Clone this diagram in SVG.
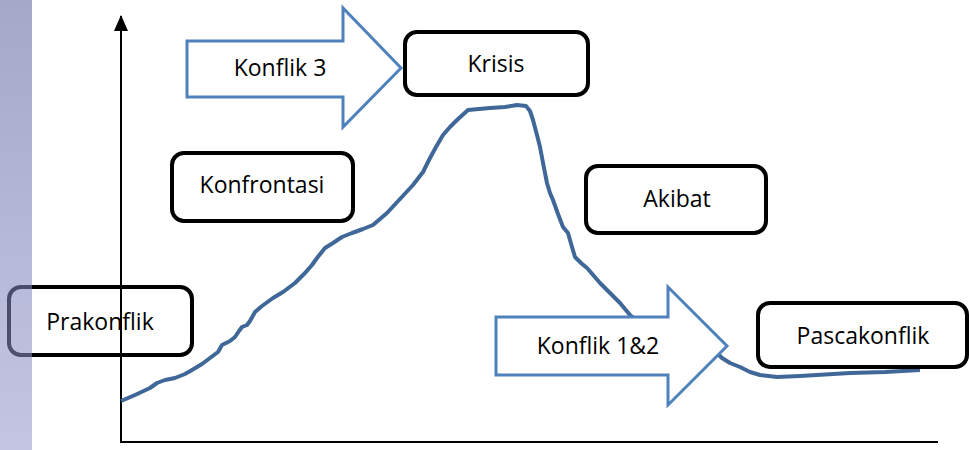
<svg xmlns="http://www.w3.org/2000/svg" width="969" height="450" viewBox="0 0 969 450">
  <defs>
    <linearGradient id="stripFill" x1="0" y1="0" x2="0" y2="1">
      <stop offset="0" stop-color="#5e67a0"/>
      <stop offset="1" stop-color="#9698cc"/>
    </linearGradient>
    <marker id="axisHead" viewBox="0 0 16 14" refX="15" refY="7" markerWidth="16" markerHeight="14" markerUnits="userSpaceOnUse" orient="auto">
      <path d="M0 0 L16 7 L0 14 Z" fill="#000"/>
    </marker>
  </defs>
  <style>
    .box { fill: none; stroke: #000; stroke-width: 4; }
    .shape-arrow { fill: #fff; stroke: #4f81bd; stroke-width: 3; stroke-linejoin: miter; }
    .label { font-family: "Open Sans", "Liberation Sans", sans-serif; font-size: 23px; fill: #000; text-anchor: middle; }
    .axis { stroke: #000; stroke-width: 2; fill: none; }
    .curve { fill: none; stroke: #3f6797; stroke-width: 4; stroke-linejoin: round; stroke-linecap: butt; }
  </style>

  <rect width="969" height="450" fill="#fff"/>

  <!-- axes -->
  <g id="axes">
    <line class="axis" x1="121" y1="442" x2="121" y2="16" marker-end="url(#axisHead)"/>
    <line class="axis" x1="120" y1="442" x2="938" y2="442"/>
  </g>

  <!-- conflict curve -->
  <g id="connectors">
    <path class="curve" d="M121 401 L135 395 L150 388 L157 383 L165 380 L175 378 L185 374 L192 370 L202 364 L210 358 L218 352 L222 345 L230 341 L235 337 L239 331 L242 327 L247 325 L250 321 L255 312 L262 306 L273 298 L283 292 L295 283 L305 273 L312 265 L317 258 L325 248 L333 243 L342 237 L352 233 L363 229 L373 225 L380 219 L387 213 L400 199 L413 185 L423 172 L430 158 L436 147 L443 135 L450 127 L457 120 L468 110 L490 108 L505 107 L517 105 L526 106 L530 111 L533 120 L537 135 L540 147 L544 168 L547 183 L550 193 L553 200 L558 214 L563 227 L568 233 L570 240 L572 247 L575 257 L581 263 L587 268 L594 276 L600 283 L610 293 L620 303 L630 315 L645 328 L670 338 L700 346 L718 354 L722 358 L730 363 L740 367 L750 372 L760 375 L777 377 L800 376 L850 373 L885 372 L920 370"/>
  </g>

  <!-- stage boxes -->
  <g id="prakonflik">
    <rect class="box" x="9" y="287" width="183" height="68" rx="12"/>
    <text class="label" x="100" y="330">Prakonflik</text>
  </g>
  <g id="konfrontasi">
    <rect class="box" x="172" y="153" width="181" height="68" rx="12"/>
    <text class="label" x="262" y="193">Konfrontasi</text>
  </g>
  <g id="krisis">
    <rect class="box" x="405" y="32" width="183" height="63" rx="12"/>
    <text class="label" x="496" y="72">Krisis</text>
  </g>
  <g id="akibat">
    <rect class="box" x="586" y="166" width="180" height="67" rx="12"/>
    <text class="label" x="677" y="207">Akibat</text>
  </g>
  <g id="pascakonflik">
    <rect class="box" x="758" y="303" width="209" height="64" rx="12"/>
    <text class="label" x="863" y="344">Pascakonflik</text>
  </g>

  <!-- block arrows -->
  <g id="konflik-3">
    <path class="shape-arrow" d="M187 41 L343 41 L343 8 L401 68 L343 127 L343 97 L187 97 Z"/>
    <text class="label" x="280" y="76">Konflik 3</text>
  </g>
  <g id="konflik-1-2">
    <path class="shape-arrow" d="M496 317 L668 317 L668 287 L727 346 L668 405 L668 375 L496 375 Z"/>
    <text class="label" x="598" y="354">Konflik 1&amp;2</text>
  </g>

  <!-- side band -->
  <rect x="0" y="0" width="32" height="450" fill="url(#stripFill)" opacity="0.565"/>
</svg>
